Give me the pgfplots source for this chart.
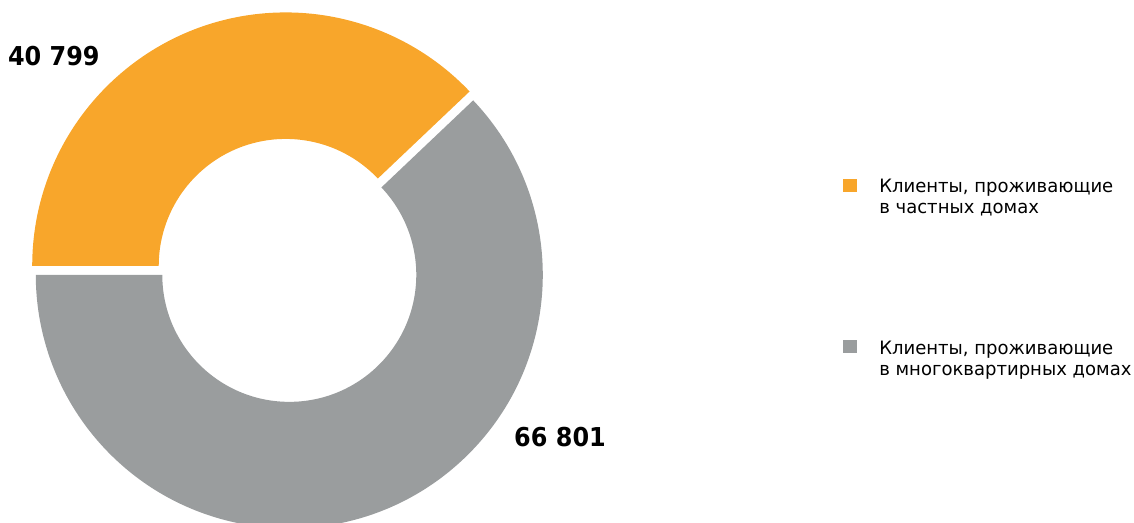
\documentclass[border=0pt]{standalone}
\usepackage{pgfplots}
\pgfplotsset{compat=1.18}
\usepackage{pgfplotstable}
\usepackage{fontspec}
\setmainfont{DejaVu Sans}
\newfontfamily\legfont[FakeStretch=0.98]{DejaVu Sans}
\newfontfamily\labfont[FakeStretch=0.92]{DejaVu Sans}
\definecolor{cOrange}{HTML}{F8A62B}
\definecolor{cGray}{HTML}{9A9D9E}
\pgfplotstableread{
idx value
0 40799
1 66801
}\piedata
% geometry (data units = pixels of the reference, y upward)
\def\Ro{253.5}
\def\Ri{127}
\def\Cx{287.5}
\def\Cy{252.6}
\def\Dx{4.8}
\newcommand\donutwedge[3]{% colour, start angle, end angle
  \edef\mid{\fpeval{(#2+#3)/2}}%
  \edef\wcx{\fpeval{\Cx+\Dx*cosd(\mid)}}%
  \edef\wcy{\fpeval{\Cy+\Dx*sind(\mid)}}%
  \edef\tmp{\noexpand\fill[#1]
    (axis cs:\fpeval{\wcx+\Ro*cosd(#2)},\fpeval{\wcy+\Ro*sind(#2)})
    arc[start angle=#2,end angle=#3,radius=\fpeval{\Ro*0.75}pt]
    -- (axis cs:\fpeval{\wcx+\Ri*cosd(#3)},\fpeval{\wcy+\Ri*sind(#3)})
    arc[start angle=#3,end angle=#2,radius=\fpeval{\Ri*0.75}pt] -- cycle;}%
  \tmp}
\begin{document}
\begin{tikzpicture}
\pgfplotstablegetelem{0}{value}\of\piedata \edef\va{\pgfplotsretval}
\pgfplotstablegetelem{1}{value}\of\piedata \edef\vb{\pgfplotsretval}
\edef\aA{180}
\edef\aB{\fpeval{180-360*\va/(\va+\vb)}}
\edef\aC{\fpeval{\aB-360*\vb/(\va+\vb)}}
\begin{axis}[
  hide axis, scale only axis, clip=false,
  width=850.5pt, height=392.25pt,
  xmin=0, xmax=1134, ymin=0, ymax=523,
]
\donutwedge{cOrange}{\aA}{\aB}
\donutwedge{cGray}{\aB}{\aC}
% value labels
\node[anchor=base, inner sep=0pt, font=\labfont\bfseries\fontsize{19.5}{23}\selectfont] at (axis cs:53.8,457.7) {40 799};
\node[anchor=base, inner sep=0pt, font=\labfont\bfseries\fontsize{19.5}{23}\selectfont] at (axis cs:560,76.3) {66 801};
% legend
\fill[cOrange] (axis cs:843.3,331.3) rectangle (axis cs:856.7,344);
\fill[cGray] (axis cs:843.3,170.3) rectangle (axis cs:856.7,183);
\node[anchor=base west, inner sep=0pt, font=\legfont\fontsize{13.8}{16}\selectfont] at (axis cs:879,330.1) {Клиенты, проживающие};
\node[anchor=base west, inner sep=0pt, font=\legfont\fontsize{13.8}{16}\selectfont] at (axis cs:879,309.5) {в частных домах};
\node[anchor=base west, inner sep=0pt, font=\legfont\fontsize{13.8}{16}\selectfont] at (axis cs:879,168.4) {Клиенты, проживающие};
\node[anchor=base west, inner sep=0pt, font=\legfont\fontsize{13.8}{16}\selectfont] at (axis cs:879,147.8) {в многоквартирных домах};
\end{axis}
\pgfresetboundingbox
\path (current axis.south west) rectangle (current axis.north east);
\end{tikzpicture}
\end{document}
